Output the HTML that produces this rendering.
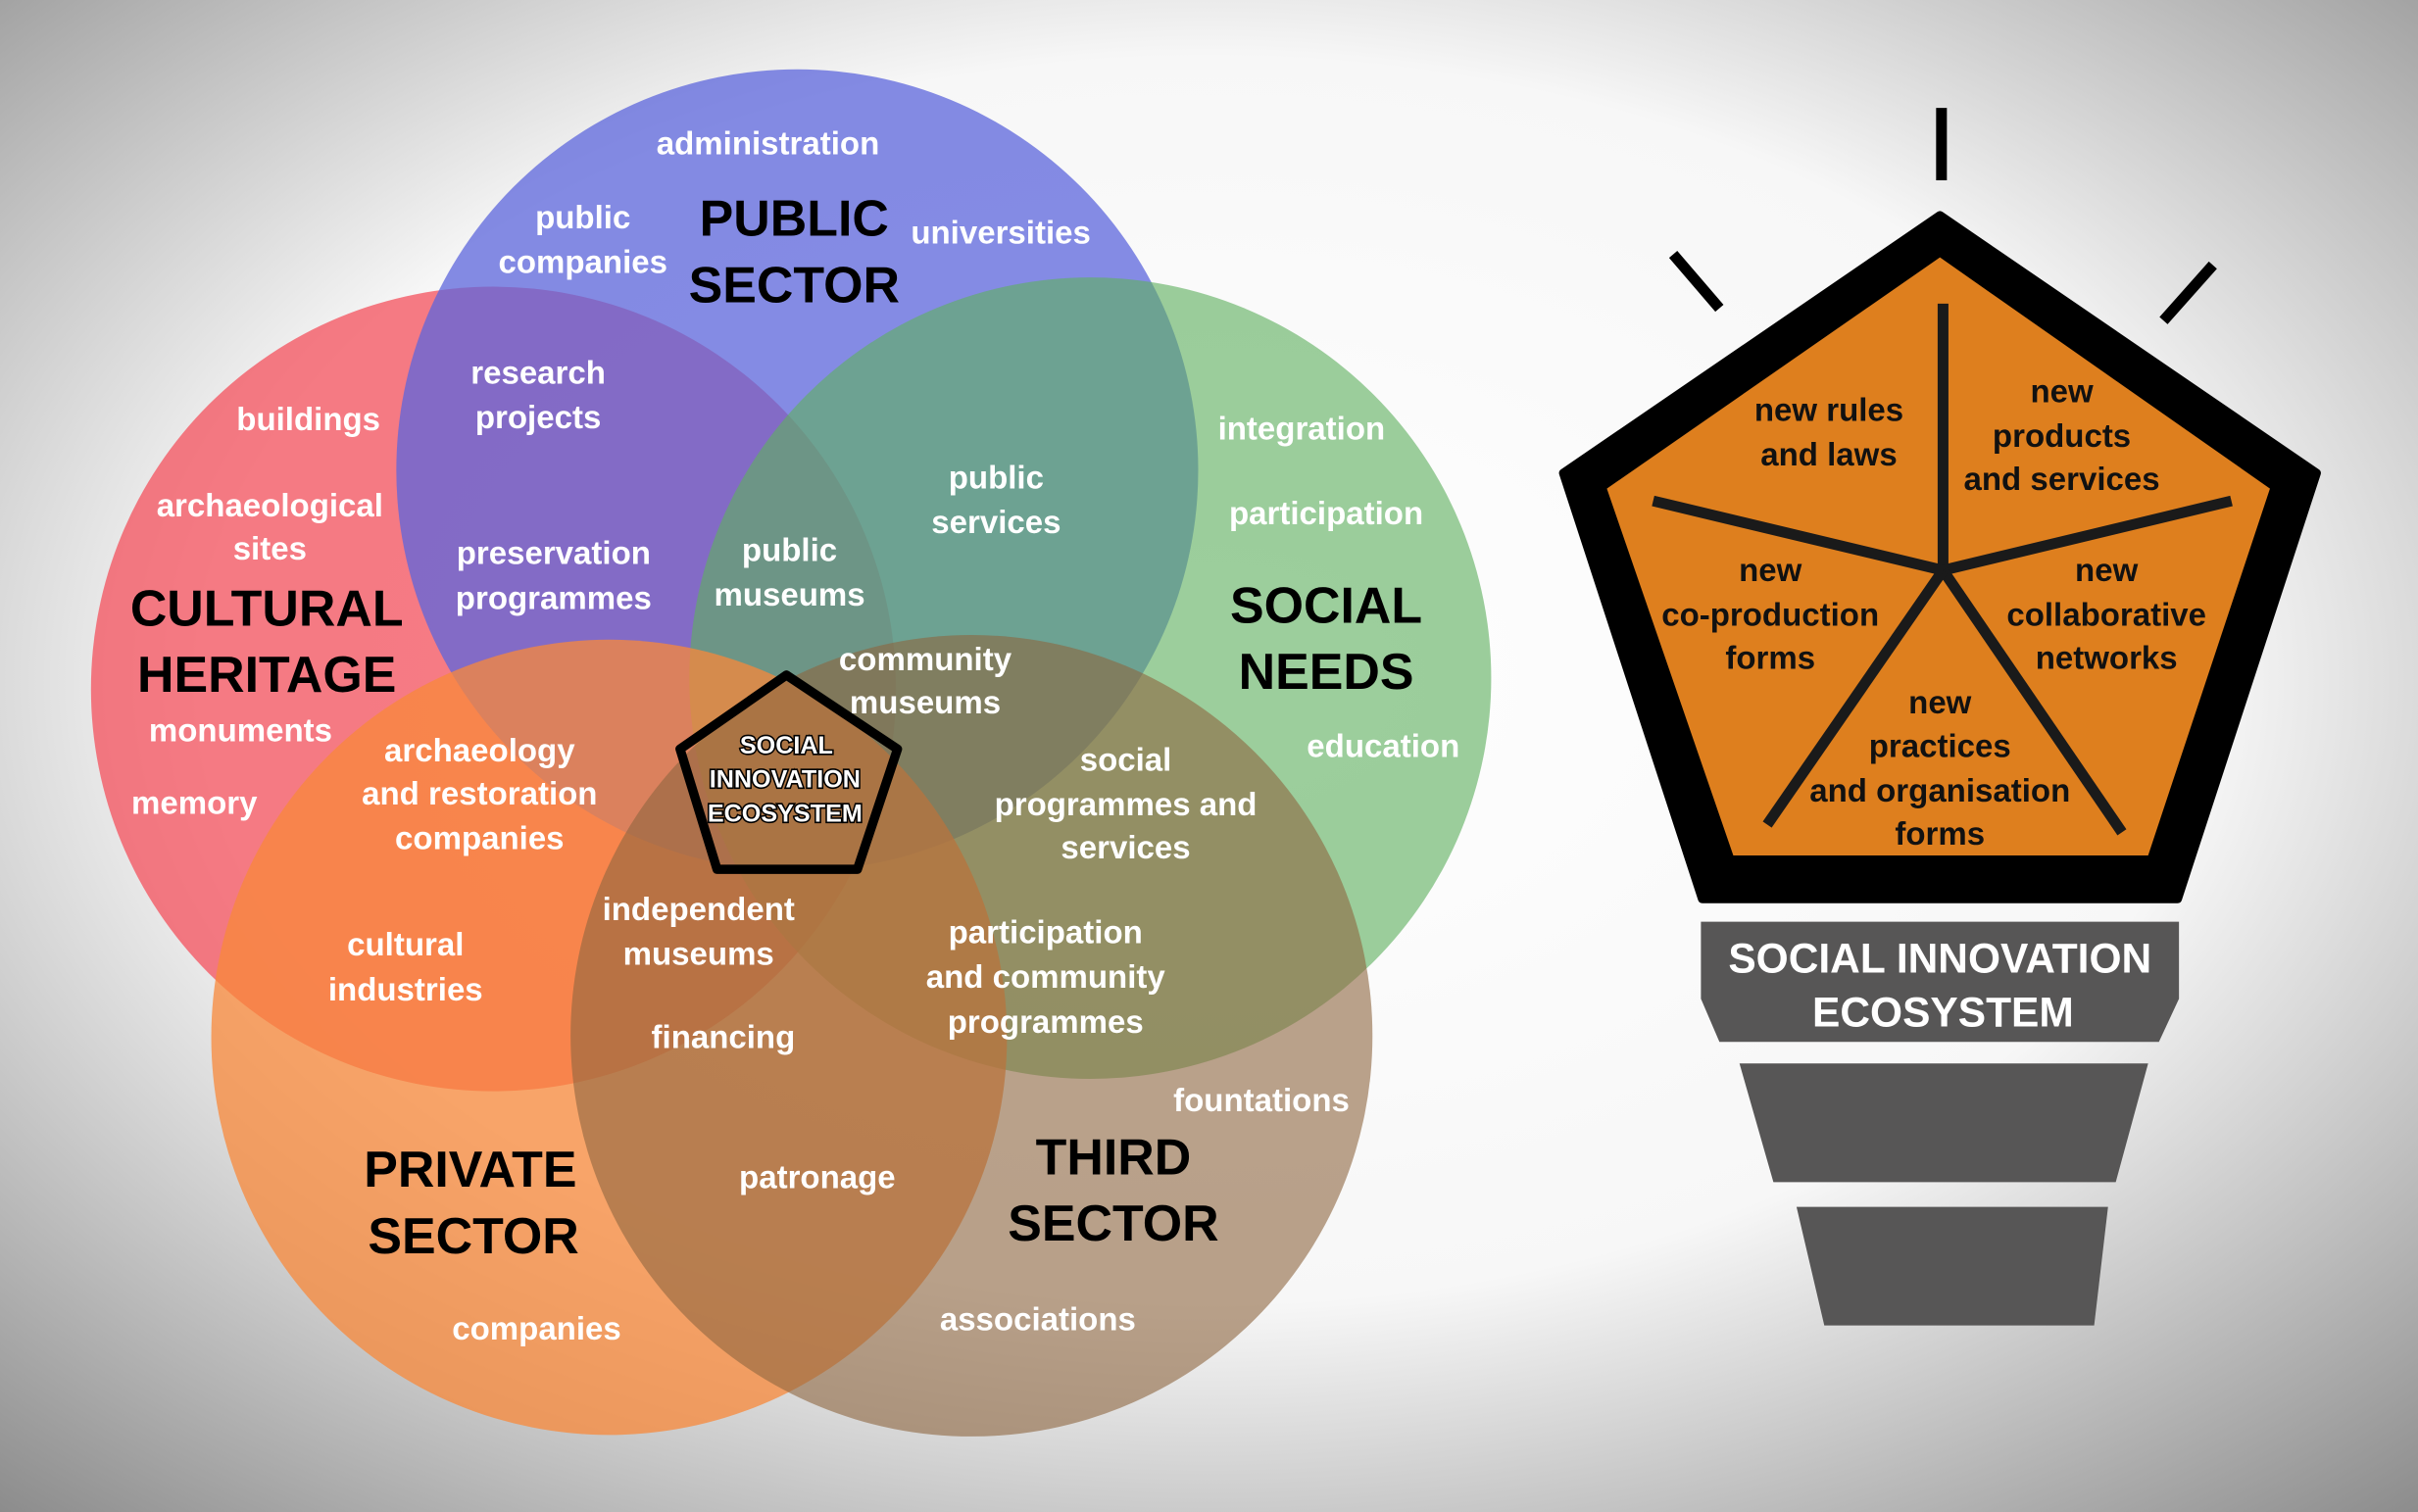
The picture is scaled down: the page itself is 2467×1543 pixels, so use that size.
<!DOCTYPE html>
<html><head><meta charset="utf-8"><style>
html,body{margin:0;padding:0;width:2467px;height:1543px;overflow:hidden}
svg{display:block}
text{font-family:"Liberation Sans",sans-serif;font-weight:bold}
.w{fill:#fff;font-size:21px;text-anchor:middle}
.b{fill:#000;font-size:33px;text-anchor:middle}
.k{fill:#111;font-size:21px;text-anchor:middle}
</style></head><body>
<svg width="2467" height="1543" viewBox="0 0 1568 981" preserveAspectRatio="none">
<defs>
<radialGradient id="bg" cx="50%" cy="45%" r="75%">
<stop offset="0" stop-color="#ffffff"/><stop offset="0.55" stop-color="#f7f7f7"/><stop offset="1" stop-color="#8a8a8a"/>
</radialGradient>
</defs>
<rect width="1568" height="981" fill="url(#bg)"/>
<circle cx="320" cy="447" r="261" fill="#f4505c" opacity="0.75"/>
<circle cx="517" cy="305" r="260" fill="#5c66dc" opacity="0.75"/>
<circle cx="707" cy="440" r="260" fill="#5fb05f" opacity="0.62"/>
<circle cx="395" cy="673" r="258" fill="#f8883a" opacity="0.75"/>
<circle cx="630" cy="672" r="260" fill="#8e6640" opacity="0.6"/>
<polygon points="510,438 582,486 556,564 465,564 441,486" fill="none" stroke="#000" stroke-width="6" stroke-linejoin="round"/>
<text class="w" x="498" y="100">administration</text>
<text class="w" x="378" y="148">public</text>
<text class="w" x="378" y="177">companies</text>
<text class="b" x="515" y="153">PUBLIC</text>
<text class="b" x="515" y="196">SECTOR</text>
<text class="w" x="649" y="158">universities</text>
<text class="w" x="349" y="249">research</text>
<text class="w" x="349" y="278">projects</text>
<text class="w" x="200" y="279">buildings</text>
<text class="w" x="175" y="335">archaeological</text>
<text class="w" x="175" y="363">sites</text>
<text class="b" x="173" y="406">CULTURAL</text>
<text class="b" x="173" y="449">HERITAGE</text>
<text class="w" x="156" y="481">monuments</text>
<text class="w" x="126" y="528">memory</text>
<text class="w" x="359" y="366">preservation</text>
<text class="w" x="359" y="395">programmes</text>
<text class="w" x="512" y="364">public</text>
<text class="w" x="512" y="393">museums</text>
<text class="w" x="646" y="317">public</text>
<text class="w" x="646" y="346">services</text>
<text class="w" x="844" y="285">integration</text>
<text class="w" x="860" y="340">participation</text>
<text class="b" x="860" y="404">SOCIAL</text>
<text class="b" x="860" y="447">NEEDS</text>
<text class="w" x="897" y="491">education</text>
<text class="w" x="600" y="435">community</text>
<text class="w" x="600" y="463">museums</text>
<text class="w" x="311" y="494">archaeology</text>
<text class="w" x="311" y="522">and restoration</text>
<text class="w" x="311" y="551">companies</text>
<g font-size="16" text-anchor="middle" fill="#fff" stroke="#000" stroke-width="2" paint-order="stroke">
<text x="510" y="489">SOCIAL</text>
<text x="509" y="511">INNOVATION</text>
<text x="509" y="533">ECOSYSTEM</text>
</g>
<text class="w" x="730" y="500">social</text>
<text class="w" x="730" y="529">programmes and</text>
<text class="w" x="730" y="557">services</text>
<text class="w" x="263" y="620">cultural</text>
<text class="w" x="263" y="649">industries</text>
<text class="w" x="453" y="597">independent</text>
<text class="w" x="453" y="626">museums</text>
<text class="w" x="678" y="612">participation</text>
<text class="w" x="678" y="641">and community</text>
<text class="w" x="678" y="670">programmes</text>
<text class="w" x="469" y="680">financing</text>
<text class="w" x="818" y="721">fountations</text>
<text class="b" x="305" y="770">PRIVATE</text>
<text class="b" x="307" y="813">SECTOR</text>
<text class="b" x="722" y="762">THIRD</text>
<text class="b" x="722" y="805">SECTOR</text>
<text class="w" x="530" y="771">patronage</text>
<text class="w" x="348" y="869">companies</text>
<text class="w" x="673" y="863">associations</text>

<line x1="1259" y1="70" x2="1259" y2="117" stroke="#000" stroke-width="7"/>
<line x1="1085" y1="165" x2="1115" y2="200" stroke="#000" stroke-width="7"/>
<line x1="1435" y1="172" x2="1403" y2="208" stroke="#000" stroke-width="7"/>
<polygon points="1258,140 1502,307 1412,583 1104,583 1014,307" fill="#000" stroke="#000" stroke-width="6" stroke-linejoin="round"/>
<polygon points="1258,167 1472,317 1393,555 1124,555 1042,317" fill="#de7f1e"/>
<g stroke="#1a1a1a" stroke-width="7">
<line x1="1260" y1="197" x2="1260" y2="370"/>
<line x1="1260" y1="370" x2="1447" y2="325"/>
<line x1="1260" y1="370" x2="1376" y2="540"/>
<line x1="1260" y1="370" x2="1146" y2="535"/>
<line x1="1260" y1="370" x2="1072" y2="325"/>
</g>
<text class="k" x="1186" y="273">new rules</text>
<text class="k" x="1186" y="302">and laws</text>
<text class="k" x="1337" y="261">new</text>
<text class="k" x="1337" y="290">products</text>
<text class="k" x="1337" y="318">and services</text>
<text class="k" x="1148" y="377">new</text>
<text class="k" x="1148" y="406">co-production</text>
<text class="k" x="1148" y="434">forms</text>
<text class="k" x="1366" y="377">new</text>
<text class="k" x="1366" y="406">collaborative</text>
<text class="k" x="1366" y="434">networks</text>
<text class="k" x="1258" y="463">new</text>
<text class="k" x="1258" y="491">practices</text>
<text class="k" x="1258" y="520">and organisation</text>
<text class="k" x="1258" y="548">forms</text>
<polygon points="1103,598 1413,598 1413,648 1400,676 1115,676 1103,648" fill="#575656"/>
<text x="1258" y="631" fill="#fff" font-size="27" text-anchor="middle">SOCIAL INNOVATION</text>
<text x="1260" y="666" fill="#fff" font-size="27" text-anchor="middle">ECOSYSTEM</text>
<polygon points="1128,690 1393,690 1372,767 1150,767" fill="#575656"/>
<polygon points="1165,783 1367,783 1358,860 1183,860" fill="#575656"/>
</svg>
</body></html>
